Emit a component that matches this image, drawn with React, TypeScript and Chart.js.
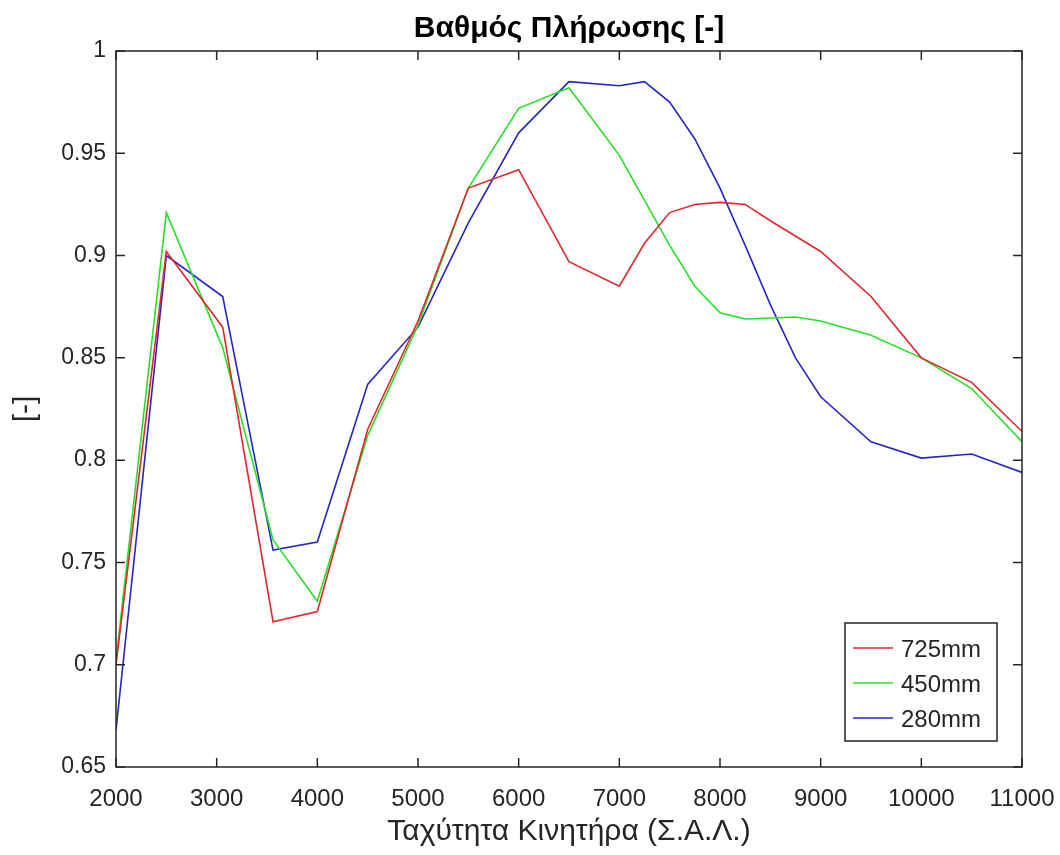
import { useEffect, useRef } from "react";
import { Chart, registerables } from "chart.js";

Chart.register(...registerables);

const chartTitle = "Βαθμός Πλήρωσης [-]";
const xAxisTitle = "Ταχύτητα Κινητήρα (Σ.Α.Λ.)";
const yAxisTitle = "[-]";

const seriesLabels = ["725mm", "450mm", "280mm"];
const seriesColors = ["#e3262c", "#27e027", "#2626c4"];

const rpm725 = [2000, 2500, 3060, 3560, 4000, 4500, 5000, 5500, 6000, 6500, 7000, 7250, 7500, 7750, 8000, 8250, 8500, 9000, 9500, 10000, 10500, 11000];
const fill725 = [0.700, 0.902, 0.865, 0.721, 0.726, 0.815, 0.868, 0.933, 0.942, 0.897, 0.885, 0.906, 0.921, 0.925, 0.926, 0.925, 0.917, 0.902, 0.880, 0.850, 0.838, 0.814];

const rpm450 = [2000, 2500, 3060, 3560, 4000, 4500, 5000, 5500, 6000, 6500, 7000, 7500, 7750, 8000, 8250, 8750, 9000, 9500, 10000, 10500, 11000];
const fill450 = [0.702, 0.921, 0.855, 0.761, 0.731, 0.812, 0.866, 0.933, 0.972, 0.982, 0.949, 0.905, 0.885, 0.872, 0.869, 0.870, 0.868, 0.861, 0.850, 0.835, 0.809];

const rpm280 = [2000, 2500, 3060, 3560, 4000, 4500, 5000, 5500, 6000, 6500, 7000, 7250, 7500, 7750, 8000, 8250, 8500, 8750, 9000, 9500, 10000, 10500, 11000];
const fill280 = [0.668, 0.900, 0.880, 0.756, 0.760, 0.837, 0.865, 0.916, 0.960, 0.985, 0.983, 0.985, 0.975, 0.957, 0.933, 0.905, 0.876, 0.850, 0.831, 0.809, 0.801, 0.803, 0.794];

const xTicks = [2000, 3000, 4000, 5000, 6000, 7000, 8000, 9000, 10000, 11000];
const xTickLabels = ["2000", "3000", "4000", "5000", "6000", "7000", "8000", "9000", "10000", "11000"];
const yTicks = [0.65, 0.7, 0.75, 0.8, 0.85, 0.9, 0.95, 1];
const yTickLabels = ["0.65", "0.7", "0.75", "0.8", "0.85", "0.9", "0.95", "1"];

const FONT = "'Liberation Sans', Arial, Helvetica, sans-serif";
const AXIS_COLOR = "#262626";

const framePlugin = {
  id: "matlabFrame",
  afterDatasetsDraw(chart: any) {
    const { ctx, chartArea: a, scales } = chart;
    ctx.save();
    ctx.strokeStyle = AXIS_COLOR;
    ctx.lineWidth = 1.5;
    ctx.strokeRect(a.left, a.top, a.right - a.left, a.bottom - a.top);
    const tl = 9;
    ctx.beginPath();
    for (const v of xTicks) {
      const px = scales.x.getPixelForValue(v);
      ctx.moveTo(px, a.bottom);
      ctx.lineTo(px, a.bottom - tl);
      ctx.moveTo(px, a.top);
      ctx.lineTo(px, a.top + tl);
    }
    for (const v of yTicks) {
      const py = scales.y.getPixelForValue(v);
      ctx.moveTo(a.left, py);
      ctx.lineTo(a.left + tl, py);
      ctx.moveTo(a.right, py);
      ctx.lineTo(a.right - tl, py);
    }
    ctx.stroke();
    ctx.restore();
  },
};

const legendPlugin = {
  id: "matlabLegend",
  afterDraw(chart: any) {
    const { ctx, chartArea: a } = chart;
    const right = a.right - 25;
    const bottom = a.bottom - 26;
    const width = 152;
    const height = 118;
    const left = right - width;
    const top = bottom - height;
    ctx.save();
    ctx.fillStyle = "#ffffff";
    ctx.fillRect(left, top, width, height);
    ctx.strokeStyle = AXIS_COLOR;
    ctx.lineWidth = 1.5;
    ctx.strokeRect(left, top, width, height);
    ctx.font = `24px ${FONT}`;
    ctx.textBaseline = "middle";
    ctx.textAlign = "left";
    chart.data.datasets.forEach((ds: any, i: number) => {
      const cy = top + 25 + i * 35;
      ctx.strokeStyle = ds.borderColor;
      ctx.lineWidth = 1.5;
      ctx.beginPath();
      ctx.moveTo(left + 8, cy);
      ctx.lineTo(left + 48, cy);
      ctx.stroke();
      ctx.fillStyle = AXIS_COLOR;
      ctx.fillText(ds.label, left + 56, cy + 2);
    });
    ctx.restore();
  },
};

function toPoints(xs: number[], ys: number[]) {
  return xs.map((x, i) => ({ x, y: ys[i] }));
}

export default function App() {
  const canvasRef = useRef<HTMLCanvasElement | null>(null);

  useEffect(() => {
    document.body.style.margin = "0";
    const canvas = canvasRef.current;
    if (!canvas) return;
    const chart = new Chart(canvas, {
      type: "line",
      data: {
        datasets: [
          { label: seriesLabels[0], data: toPoints(rpm725, fill725), borderColor: seriesColors[0] },
          { label: seriesLabels[1], data: toPoints(rpm450, fill450), borderColor: seriesColors[1] },
          { label: seriesLabels[2], data: toPoints(rpm280, fill280), borderColor: seriesColors[2] },
        ].map((d) => ({ ...d, borderWidth: 1.6, pointRadius: 0, tension: 0, fill: false })),
      },
      options: {
        animation: false,
        responsive: false,
        devicePixelRatio: 1,
        layout: { padding: { left: 0, right: 38, top: 0, bottom: 0 } },
        plugins: {
          legend: { display: false },
          tooltip: { enabled: false },
          title: {
            display: true,
            text: chartTitle,
            fullSize: false,
            color: "#000000",
            font: { family: FONT, size: 30, weight: "bold" },
            padding: { top: 11, bottom: 4 },
          },
        },
        scales: {
          x: {
            type: "linear",
            min: 2000,
            max: 11000,
            afterBuildTicks: (s: any) => {
              s.ticks = xTicks.map((v) => ({ value: v }));
            },
            afterFit: (s: any) => {
              s.height = 88;
              s.paddingLeft = 0;
              s.paddingRight = 0;
            },
            grid: { display: false, drawTicks: false },
            border: { display: false },
            ticks: {
              autoSkip: false,
              maxRotation: 0,
              padding: 18,
              color: AXIS_COLOR,
              font: { family: FONT, size: 24 },
              callback: (_v: any, i: number) => xTickLabels[i],
            },
            title: {
              display: true,
              text: xAxisTitle,
              color: AXIS_COLOR,
              font: { family: FONT, size: 30 },
              padding: { top: 0, bottom: 5 },
            },
          },
          y: {
            type: "linear",
            min: 0.65,
            max: 1,
            afterBuildTicks: (s: any) => {
              s.ticks = yTicks.map((v) => ({ value: v }));
            },
            afterFit: (s: any) => {
              s.width = 116;
              s.paddingTop = 0;
              s.paddingBottom = 0;
            },
            grid: { display: false, drawTicks: false },
            border: { display: false },
            ticks: {
              autoSkip: false,
              padding: 10,
              color: AXIS_COLOR,
              font: { family: FONT, size: 23 },
              callback: (_v: any, i: number) => yTickLabels[i],
            },
            title: {
              display: true,
              text: yAxisTitle,
              color: AXIS_COLOR,
              font: { family: FONT, size: 30 },
              padding: { top: 8, bottom: 0 },
            },
          },
        },
      },
      plugins: [framePlugin, legendPlugin],
    } as any);
    return () => chart.destroy();
  }, []);

  return (
    <canvas
      ref={canvasRef}
      width={1060}
      height={855}
      style={{ display: "block", width: 1060, height: 855 }}
    />
  );
}
